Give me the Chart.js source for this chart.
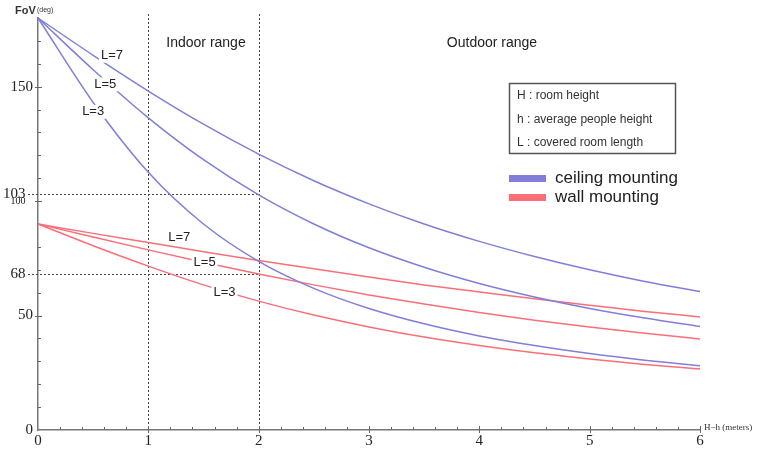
<!DOCTYPE html>
<html><head><meta charset="utf-8">
<script src="https://cdn.jsdelivr.net/npm/chart.js@4/dist/chart.umd.min.js"></script>
<style>html,body{margin:0;padding:0;background:#fff}#wrap{width:760px;height:452px}</style>
</head><body><div id="wrap"><canvas id="c" width="760" height="452"></canvas></div>
<script>
// H-h values (meters)
const xValues = [0,0.5,1,1.5,2,2.5,3,3.5,4,4.5,5,5.5,6];
// Ceiling mounting FoV (deg)
const ceilingL7 = [180,163.7,148.1,133.6,120.5,108.9,98.8,90.0,82.4,75.8,70.0,64.9,60.5];
const ceilingL5 = [180,157.4,136.4,118.1,102.7,90.0,79.6,71.1,64.0,58.1,53.1,48.9,45.2];
const ceilingL3 = [180,143.1,112.6,90.0,73.7,61.9,53.1,46.4,41.1,36.9,33.4,30.5,28.1];
// Wall mounting FoV (deg)
const wallL7 = [90,85.9,81.9,77.9,74.1,70.4,66.8,63.4,60.3,57.3,54.5,51.8,49.4];
const wallL5 = [90,84.3,78.7,73.3,68.2,63.4,59.0,55.0,51.3,48.0,45.0,42.3,39.8];
const wallL3 = [90,80.5,71.6,63.4,56.3,50.2,45.0,40.6,36.9,33.7,31.0,28.6,26.6];
// Axis ticks
const xTicks = [0,1,2,3,4,5,6];
const yTicks = [0,50,68,100,103,150];
// Reference guide values
const vGuides = [1,2];
const hGuides = [103,68];
const rangeLabels = ["Indoor range","Outdoor range"];
const curveLabels = ["L=7","L=5","L=3","L=7","L=5","L=3"];
const curveLabelAt = [[0.67,163.5],[0.61,151],[0.5,139],[1.28,84.3],[1.51,73.4],[1.69,59.9]];
const legendNotes = ["H : room height","h : average people height","L : covered room length"];
const seriesNames = ["ceiling mounting","wall mounting"];

const BLUE = '#7f7fda', RED = '#fa6e78';
const pts = a => xValues.map((x,i)=>({x:x,y:a[i]}));
const ds = (label,a,c)=>({label:label,data:pts(a),borderColor:c,backgroundColor:c,borderWidth:1.5,pointRadius:0,cubicInterpolationMode:'monotone',fill:false,clip:false});

const deco = {
  id:'deco',
  beforeDatasetsDraw(chart){
    const {ctx, chartArea:a, scales:{x,y}} = chart;
    ctx.save();
    ctx.strokeStyle='#444'; ctx.lineWidth=1; ctx.setLineDash([2,2]);
    vGuides.forEach(v=>{const px=Math.round(x.getPixelForValue(v))+0.5;ctx.beginPath();ctx.moveTo(px,a.top-4);ctx.lineTo(px,a.bottom);ctx.stroke();});
    hGuides.forEach(v=>{const py=Math.round(y.getPixelForValue(v))+0.5;ctx.beginPath();ctx.moveTo(a.left-10,py);ctx.lineTo(x.getPixelForValue(2),py);ctx.stroke();});
    ctx.setLineDash([]);
    // minor ticks
    ctx.strokeStyle='#666'; ctx.lineWidth=1;
    for(let v=10; v<180; v+=10){const py=Math.round(y.getPixelForValue(v))+0.5;const L=(v%50===0)?4:3;ctx.beginPath();ctx.moveTo(a.left-(v%50===0?3:0),py);ctx.lineTo(a.left+L,py);ctx.stroke();}
    for(let i=1;i<=30;i++){const v=i*0.2;const px=Math.round(x.getPixelForValue(v))+0.5;const maj=(i%5===0);ctx.beginPath();ctx.moveTo(px,a.bottom+(maj?3:0));ctx.lineTo(px,a.bottom-(maj?4:3));ctx.stroke();}
    ctx.restore();
  },
  afterDatasetsDraw(chart){
    const {ctx, chartArea:a, scales:{x,y}} = chart;
    ctx.save();
    ctx.textBaseline='middle'; ctx.textAlign='center';
    ctx.font='13px "Liberation Sans", Arial, sans-serif';
    curveLabels.forEach((t,i)=>{
      const px=x.getPixelForValue(curveLabelAt[i][0]), py=y.getPixelForValue(curveLabelAt[i][1]);
      const w=ctx.measureText(t).width+4;
      ctx.fillStyle='#fff'; ctx.fillRect(px-w/2,py-7,w,14);
      ctx.fillStyle='#222'; ctx.fillText(t,px,py);
    });
    // range labels
    ctx.font='14px "Liberation Sans", Arial, sans-serif'; ctx.fillStyle='#222';
    ctx.fillText(rangeLabels[0],206,43);
    ctx.fillText(rangeLabels[1],492,43);
    // axis titles
    ctx.textAlign='left';
    ctx.font='bold 11px "Liberation Sans", Arial, sans-serif'; ctx.fillStyle='#333';
    ctx.fillText('FoV',15,11);
    ctx.font='7px "Liberation Sans", Arial, sans-serif';
    ctx.fillText('(deg)',37,10);
    ctx.font='9px "Liberation Serif", serif';
    ctx.fillText('H\u2212h (meters)',704,428);
    // legend box
    ctx.strokeStyle='#555'; ctx.lineWidth=1.5;
    ctx.strokeRect(509.5,83.5,166,70);
    ctx.font='12px "Liberation Sans", Arial, sans-serif'; ctx.fillStyle='#333';
    legendNotes.forEach((t,i)=>ctx.fillText(t,517,96+i*23.5));
    // series legend
    ctx.fillStyle=BLUE; ctx.fillRect(509,175,37,7);
    ctx.fillStyle=RED; ctx.fillRect(509,194,37,7);
    ctx.font='17px "Liberation Sans", Arial, sans-serif'; ctx.fillStyle='#222';
    ctx.fillText(seriesNames[0],555,178);
    ctx.fillText(seriesNames[1],555,197);
    ctx.restore();
  }
};

new Chart(document.getElementById('c'),{
  type:'line',
  data:{datasets:[
    ds('ceiling L=7',ceilingL7,BLUE),ds('ceiling L=5',ceilingL5,BLUE),ds('ceiling L=3',ceilingL3,BLUE),
    ds('wall L=7',wallL7,RED),ds('wall L=5',wallL5,RED),ds('wall L=3',wallL3,RED)
  ]},
  options:{
    responsive:false, animation:false, devicePixelRatio:1,
    layout:{padding:{top:18,right:60,left:0,bottom:0}},
    plugins:{legend:{display:false},tooltip:{enabled:false}},
    scales:{
      x:{type:'linear',min:0,max:6,
        afterBuildTicks:ax=>{ax.ticks=xTicks.map(v=>({value:v}));},
        afterFit:ax=>{ax.height=22;},
        grid:{display:false,drawTicks:false},
        border:{display:true,color:'#777',width:1.5},
        ticks:{padding:2,color:'#222',font:{family:'"Liberation Serif", serif',size:15},callback:v=>String(v),maxRotation:0,autoSkip:false}
      },
      y:{type:'linear',min:0,max:180,
        afterBuildTicks:ax=>{ax.ticks=yTicks.map(v=>({value:v}));},
        afterFit:ax=>{ax.width=38;},
        grid:{display:false,drawTicks:false},
        border:{display:true,color:'#777',width:1.5},
        ticks:{padding:5,color:'#222',autoSkip:false,
          font:c=>({family:'"Liberation Serif", serif',size:(c.tick&&c.tick.value===100)?10:15}),
          callback:v=>(v===68||v===103)?String(v)+'  ':(v===100?String(v)+'   ':String(v))}
      }
    }
  },
  plugins:[deco]
});
</script></body></html>
